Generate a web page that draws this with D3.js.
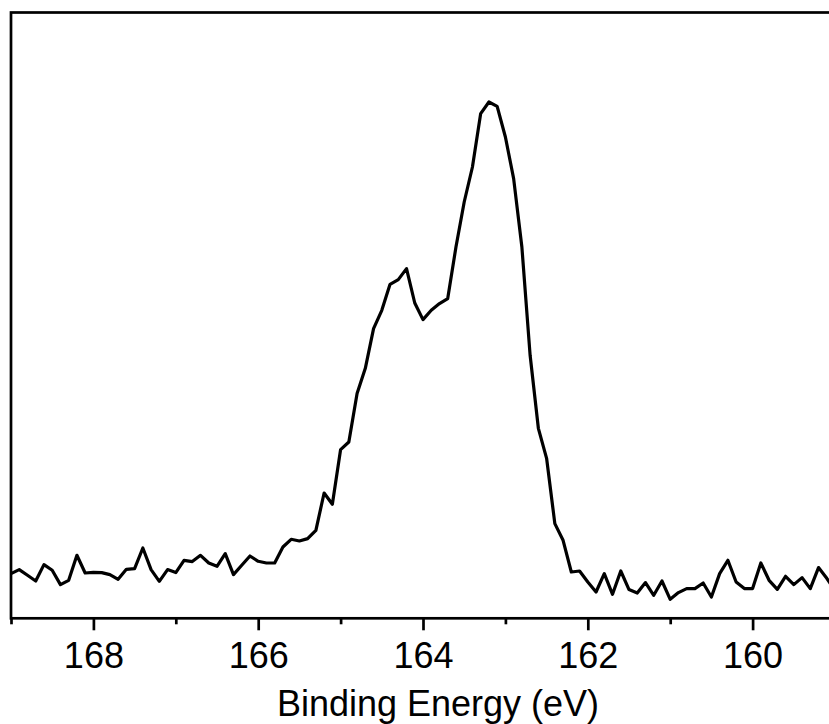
<!DOCTYPE html>
<html>
<head>
<meta charset="utf-8">
<script src="https://cdn.jsdelivr.net/npm/d3@7"></script>
<style>
  html, body { margin: 0; padding: 0; background: #fff; overflow: hidden; }
  svg { display: block; font-family: Arial, "Liberation Sans", sans-serif; }
</style>
</head>
<body>
<svg id="chart"></svg>
<script>
// binding energy grid, 169.0 down to 159.0 eV in 0.1 steps
const energies = d3.range(0, 101).map(i => +(169 - i * 0.1).toFixed(1));

// intensity (arbitrary units)
const intensity = [
  44.7, 48.7, 43.0, 37.3, 53.7, 48.0, 33.7, 38.0, 63.0, 45.3,
  46.0, 45.7, 43.7, 39.0, 49.0, 49.7, 70.3, 48.7, 37.0, 48.7,
  45.7, 58.0, 56.7, 63.0, 55.3, 52.0, 64.7, 43.7, 53.0, 62.3,
  57.0, 55.3, 55.3, 71.3, 79.0, 77.3, 79.7, 88.0, 125.3, 114.0,
  168.7, 176.3, 224.7, 250.0, 289.7, 308.0, 334.0, 338.7, 349.7, 315.3,
  298.7, 308.0, 314.7, 319.7, 371.3, 416.3, 451.3, 504.7, 516.3, 512.0,
  481.3, 439.7, 371.3, 263.0, 190.0, 160.0, 94.7, 78.0, 46.3, 47.3,
  36.3, 26.3, 44.7, 24.0, 47.3, 28.7, 25.3, 35.7, 23.0, 37.3,
  19.0, 25.7, 29.7, 29.7, 35.3, 21.3, 44.7, 58.0, 36.3, 29.7,
  29.7, 55.3, 38.0, 29.0, 42.0, 33.7, 40.7, 29.7, 50.7, 40.0,
  28.0
];

const majorTicks = [168, 166, 164, 162, 160];
const minorTicks = [169, 167, 165, 163, 161, 159];

const data = energies.map((e, i) => ({e: e, v: intensity[i]}));

const W = 829, H = 724;
const margin = {left: 11, right: 835, top: 12.5, bottom: 618.3};

const svg = d3.select("#chart")
    .attr("width", W)
    .attr("height", H);

const x = d3.scaleLinear()
    .domain([169, 159])
    .range([margin.left, margin.right]);

const y = d3.scaleLinear()
    .domain([0, 605.8])
    .range([margin.bottom, margin.top]);

// frame (right side falls outside the window)
svg.append("rect")
    .attr("x", margin.left)
    .attr("y", margin.top)
    .attr("width", margin.right - margin.left)
    .attr("height", margin.bottom - margin.top)
    .attr("fill", "none")
    .attr("stroke", "#000")
    .attr("stroke-width", 2.7);

// spectrum
const line = d3.line()
    .x(d => x(d.e))
    .y(d => y(d.v));

svg.append("path")
    .datum(data)
    .attr("fill", "none")
    .attr("stroke", "#000")
    .attr("stroke-width", 3.2)
    .attr("stroke-linejoin", "round")
    .attr("d", line);

// x axis
const xAxis = d3.axisBottom(x)
    .tickValues(majorTicks)
    .tickFormat(d3.format("d"))
    .tickSize(12)
    .tickPadding(12);

const gx = svg.append("g")
    .attr("transform", `translate(0,${margin.bottom})`)
    .call(xAxis);

gx.select(".domain").remove();
gx.selectAll(".tick line").attr("stroke-width", 2.7);
gx.selectAll(".tick text")
    .attr("font-size", 36)
    .attr("font-family", "Arial, 'Liberation Sans', sans-serif")
    .attr("fill", "#000");

// minor ticks
svg.append("g")
    .attr("transform", `translate(0,${margin.bottom})`)
    .call(d3.axisBottom(x).tickValues(minorTicks).tickSize(6).tickFormat(""))
    .call(g => g.select(".domain").remove())
    .call(g => g.selectAll(".tick line").attr("stroke-width", 2.7));

// axis title
svg.append("text")
    .attr("x", 438)
    .attr("y", 716)
    .attr("text-anchor", "middle")
    .attr("font-size", 36)
    .attr("fill", "#000")
    .text("Binding Energy (eV)");
</script>
</body>
</html>
